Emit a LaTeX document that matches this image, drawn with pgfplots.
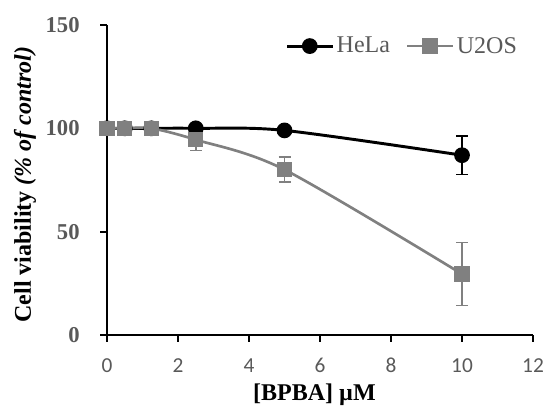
\documentclass[border=0pt]{standalone}
\usepackage{pgfplots}
\pgfplotsset{compat=1.18}
\usepackage{fontspec}
\setmainfont{Liberation Serif}
\newfontfamily\calibri{Carlito}
\definecolor{txtgray}{RGB}{89,89,89}
\definecolor{ugray}{RGB}{128,128,128}
\begin{document}
\begin{tikzpicture}
\begin{axis}[
    width=319.5pt, height=232.5pt,
    scale only axis,
    xmin=0, xmax=12, ymin=0, ymax=150,
    xtick={0,2,...,12},
    ytick={0,50,100,150},
    axis x line*=bottom,
    axis y line*=left,
    axis line style={black, line width=1.8pt},
    tick style={black, line width=1.5pt},
    tick align=outside,
    major tick length=5pt,
    /pgf/number format/assume math mode=true,
    xticklabel style={font=\calibri\fontsize{16}{16}\selectfont, text=txtgray},
    yticklabel style={font=\bfseries\fontsize{17}{17}\selectfont, text=txtgray},
    xticklabel shift=9pt,
    yticklabel shift=12pt,
    xlabel={[BPBA] \textmu M},
    ylabel={Cell viability \textit{(\% of control)}},
    label style={font=\bfseries\fontsize{18}{18}\selectfont},
    xlabel style={at={(axis description cs:0.487,-0.192)}, anchor=center},
    ylabel style={at={(axis description cs:-0.1925,0.485)}, anchor=center},
    legend style={draw=none, fill=none, at={(0.969,0.932)}, anchor=east,
        inner sep=0pt, legend columns=2,
        font=\fontsize{18}{18}\selectfont, text=txtgray,
        /tikz/every even column/.append style={column sep=10pt}},
    legend image code/.code={\draw[mark repeat=2, mark phase=2]
        plot coordinates {(0cm,0cm) (0.6cm,0cm) (1.2cm,0cm)};},
]
\addplot[black, line width=2.2pt, smooth, mark=*, mark size=4.8pt,
    mark options={solid},
    error bars/.cd, y dir=both, y explicit,
    error bar style={black, line width=1.3pt},
    error mark options={rotate=90, mark size=4.5pt, line width=1.3pt}]
coordinates {
    (0,100) +- (0,0)
    (0.5,100) +- (0,0)
    (1.25,100) +- (0,0)
    (2.5,100) +- (0,0)
    (5,99) +- (0,0)
    (10,87) +- (0,9.3)
};
\addlegendentry{HeLa}
\addplot[ugray, line width=2pt, smooth, mark=square*, mark size=4.8pt,
    mark options={solid},
    error bars/.cd, y dir=both, y explicit,
    error bar style={ugray, line width=1.3pt},
    error mark options={rotate=90, mark size=4.5pt, line width=1.3pt}]
coordinates {
    (0,100) +- (0,0)
    (0.5,100) +- (0,0)
    (1.25,100) +- (0,0)
    (2.5,94.5) +- (0,5.2)
    (5,80) +- (0,6)
    (10,29.5) +- (0,15.2)
};
\addlegendentry{U2OS}
\end{axis}
\pgfresetboundingbox
\path (current axis.south west) +(-80.25pt,-54pt)
      (current axis.north east) +(9.75pt,18.75pt);
\end{tikzpicture}
\end{document}
